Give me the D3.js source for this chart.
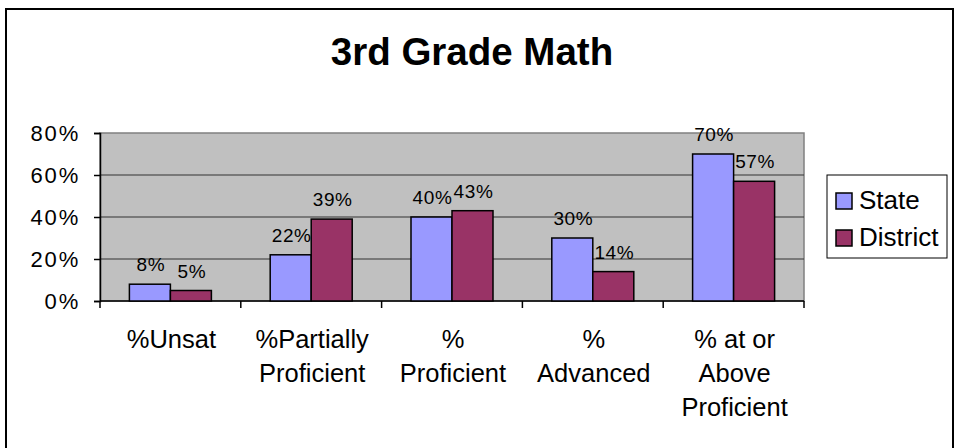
<!DOCTYPE html>
<html>
<head>
<meta charset="utf-8">
<script src="https://cdn.jsdelivr.net/npm/d3@7"></script>
<style>
  html, body { margin: 0; padding: 0; background: #fff; }
  svg { display: block; }
  text { font-family: "Liberation Sans", Arial, sans-serif; fill: #000; }
</style>
</head>
<body>
<svg id="chart" width="957" height="448"></svg>
<script>
const title = "3rd Grade Math";
const categories = [
  ["%Unsat"],
  ["%Partially", "Proficient"],
  ["%", "Proficient"],
  ["%", "Advanced"],
  ["% at or", "Above", "Proficient"]
];
const seriesNames = ["State", "District"];
const stateValues = [0.08, 0.22, 0.40, 0.30, 0.70];
const districtValues = [0.05, 0.39, 0.43, 0.14, 0.57];
const yTicks = [0, 0.2, 0.4, 0.6, 0.8];
const colors = ["#9999FF", "#993366"];

const svg = d3.select("#chart");

// outer frame
svg.append("rect").attr("x", 6).attr("y", 9).attr("width", 947).attr("height", 460)
  .attr("fill", "none").attr("stroke", "#000").attr("stroke-width", 2);

// title
svg.append("text").attr("x", 472).attr("y", 65).attr("text-anchor", "middle")
  .style("font-size", "38.5px").style("font-weight", "bold").text(title);

const pLeft = 100, pRight = 804, pTop = 133, pBottom = 301;
const catKeys = categories.map((c, i) => i);
const x0 = d3.scaleBand().domain(catKeys).range([pLeft, pRight]).padding(0);
const x1 = d3.scaleBand().domain(seriesNames).range([0, x0.bandwidth()]).paddingInner(0).paddingOuter(0.717);
const y = d3.scaleLinear().domain([0, 0.8]).range([pBottom, pTop]);

// plot background
svg.append("rect").attr("x", pLeft).attr("y", pTop).attr("width", pRight - pLeft).attr("height", pBottom - pTop)
  .attr("fill", "#C0C0C0").attr("stroke", "#808080").attr("stroke-width", 1.5);

// gridlines
svg.append("g").selectAll("line").data(yTicks.filter(d => d > 0 && d < 0.8)).join("line")
  .attr("x1", pLeft).attr("x2", pRight).attr("y1", d => y(d)).attr("y2", d => y(d))
  .attr("stroke", "#333").attr("stroke-width", 1);

// y axis
const yAxis = d3.axisLeft(y).tickValues(yTicks).tickFormat(d3.format(".0%")).tickSize(6).tickPadding(14);
const gy = svg.append("g").attr("transform", `translate(${pLeft},0)`).call(yAxis);
gy.select(".domain").attr("stroke", "#000").attr("stroke-width", 1.5);
gy.selectAll(".tick line").attr("stroke", "#000").attr("stroke-width", 1.5);
gy.selectAll(".tick text").style("font-size", "22px").style("font-family", "Liberation Sans, Arial, sans-serif")
  .attr("fill", "#000").attr("dy", "0.36em").style("letter-spacing", "1.8px");

// x axis line and ticks at band boundaries
svg.append("line").attr("x1", pLeft).attr("x2", pRight).attr("y1", pBottom).attr("y2", pBottom)
  .attr("stroke", "#000").attr("stroke-width", 1.5);
const boundaries = catKeys.map(k => x0(k)).concat([pRight]);
svg.append("g").selectAll("line").data(boundaries).join("line")
  .attr("x1", d => d).attr("x2", d => d).attr("y1", pBottom).attr("y2", pBottom + 7)
  .attr("stroke", "#000").attr("stroke-width", 1.5);

// category labels
const catG = svg.append("g").selectAll("text").data(categories).join("text")
  .attr("x", (d, i) => x0(i) + x0.bandwidth() / 2 + 1)
  .attr("y", 348).attr("text-anchor", "middle").style("font-size", "25.5px");
catG.selectAll("tspan").data(d => d).join("tspan")
  .attr("x", function() { return d3.select(this.parentNode).attr("x"); })
  .attr("dy", (d, i) => i === 0 ? 0 : 34).text(d => d);

// bars
const rows = catKeys.map(i => ({ i, vals: [stateValues[i], districtValues[i]] }));
const groups = svg.append("g").selectAll("g").data(rows).join("g")
  .attr("transform", d => `translate(${x0(d.i)},0)`);
groups.selectAll("rect").data(d => d.vals.map((v, s) => ({ v, s }))).join("rect")
  .attr("x", d => x1(seriesNames[d.s])).attr("width", x1.bandwidth())
  .attr("y", d => y(d.v)).attr("height", d => pBottom - y(d.v))
  .attr("fill", d => colors[d.s]).attr("stroke", "#000").attr("stroke-width", 1.5);
groups.selectAll("text").data(d => d.vals.map((v, s) => ({ v, s }))).join("text")
  .attr("x", d => x1(seriesNames[d.s]) + x1.bandwidth() / 2 + 1)
  .attr("y", d => y(d.v) - 13).attr("text-anchor", "middle")
  .style("font-size", "19px").style("letter-spacing", "0.6px")
  .text(d => d3.format(".0%")(d.v));

// legend
const lg = svg.append("g");
lg.append("rect").attr("x", 827).attr("y", 175).attr("width", 120).attr("height", 83)
  .attr("fill", "#fff").attr("stroke", "#000").attr("stroke-width", 1);
const items = lg.selectAll("g").data(seriesNames).join("g")
  .attr("transform", (d, i) => `translate(836,${193 + i * 37})`);
items.append("rect").attr("width", 16).attr("height", 16)
  .attr("fill", (d, i) => colors[i]).attr("stroke", "#000").attr("stroke-width", 1.5);
items.append("text").attr("x", 23).attr("y", 16).style("font-size", "26px").text(d => d);
</script>
</body>
</html>
